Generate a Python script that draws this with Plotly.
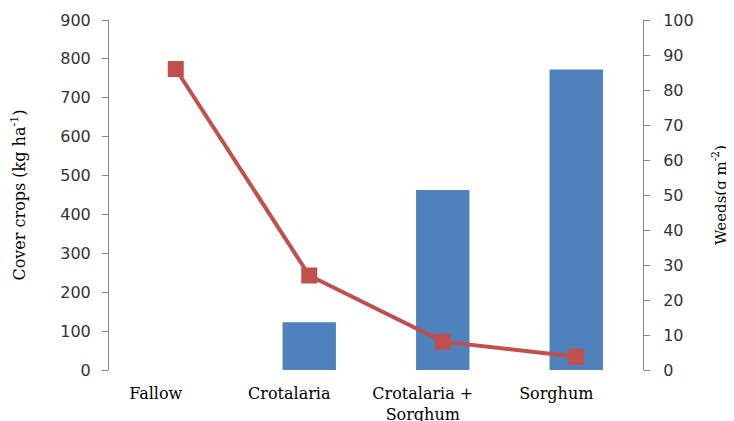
import plotly.graph_objects as go

categories = ["Fallow", "Crotalaria", "Crotalaria +<br>Sorghum", "Sorghum"]
cover_crops = [None, 123, 463, 773]
weeds = [86, 27, 8.1, 3.8]

fig = go.Figure()
fig.add_trace(go.Bar(x=categories, y=cover_crops, name="Cover crops",
                     marker=dict(color="#4F81BD", line=dict(width=0)), width=0.4))
fig.add_trace(go.Scatter(x=categories, y=weeds, name="Weeds", yaxis="y2", mode="lines+markers",
                         line=dict(color="#C0504D", width=4),
                         marker=dict(symbol="square", size=16, color="#C0504D")))

serif = "DejaVu Serif, serif"
sans = "DejaVu Sans, sans-serif"

# page body adds an 8px offset, so margins are shifted to compensate
fig.update_layout(
    width=734, height=421,
    margin=dict(l=101, r=99, t=12, b=59),
    paper_bgcolor="white", plot_bgcolor="white",
    showlegend=False,
    xaxis=dict(range=[-0.5, 3.5], showline=False, showgrid=False, automargin=False,
               ticks="outside", ticklen=9, tickcolor="rgba(0,0,0,0)", ticklabelshift=-20,
               tickfont=dict(family=serif, size=16, color="black")),
    yaxis=dict(range=[0, 900], dtick=100, showgrid=False, showline=True, automargin=False,
               linecolor="#868686", linewidth=1, ticks="outside", ticklen=6,
               tickcolor="#868686", ticklabelstandoff=8,
               tickfont=dict(family=sans, size=16, color="#333"),
               title=dict(text="Cover crops (kg ha<sup>-1</sup>)", standoff=30,
                          font=dict(family=serif, size=16, color="black"))),
    yaxis2=dict(range=[0, 100], dtick=10, overlaying="y", side="right", showgrid=False,
                showline=True, linecolor="#868686", linewidth=1, ticks="outside",
                ticklen=6, tickcolor="#868686", automargin=False, ticklabelstandoff=10,
                tickfont=dict(family=sans, size=16, color="#333"),
                title=dict(text="Weeds(g m<sup>-2</sup>)", standoff=22,
                           font=dict(family=serif, size=15, color="black"))),
)

fig.write_html("out.html")
